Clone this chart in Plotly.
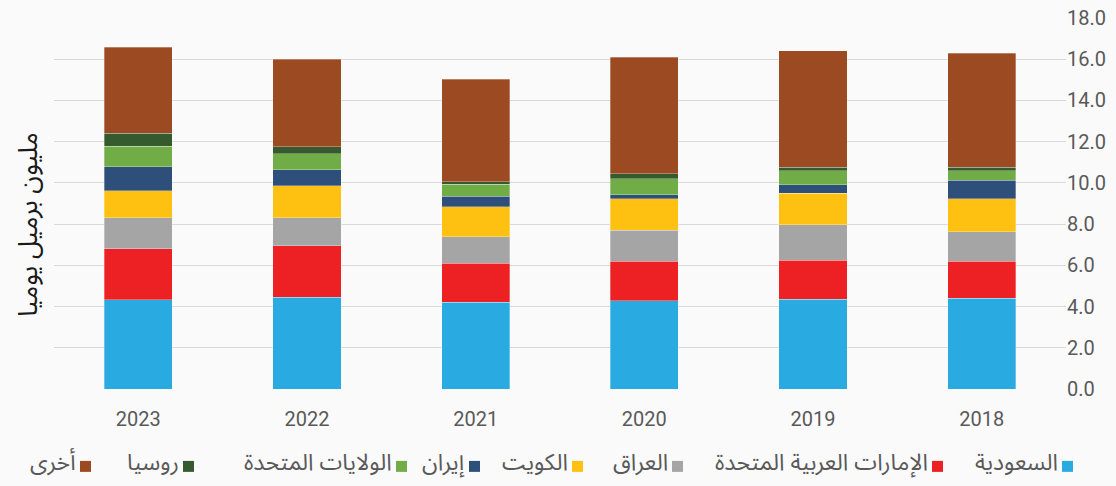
import plotly.graph_objects as go

years = ["2018", "2019", "2020", "2021", "2022", "2023"]
series_names = ["السعودية", "الإمارات العربية المتحدة", "العراق", "الكويت", "إيران",
                "الولايات المتحدة", "روسيا", "أخرى"]
saudi  = [4.41, 4.36, 4.28, 4.22, 4.44, 4.33]
uae    = [1.78, 1.88, 1.91, 1.89, 2.51, 2.47]
iraq   = [1.45, 1.73, 1.52, 1.27, 1.35, 1.50]
kuwait = [1.59, 1.52, 1.51, 1.47, 1.55, 1.31]
iran   = [0.89, 0.43, 0.21, 0.49, 0.78, 1.17]
usa    = [0.48, 0.68, 0.78, 0.60, 0.78, 1.00]
russia = [0.16, 0.16, 0.23, 0.12, 0.34, 0.64]
other  = [5.53, 5.66, 5.65, 4.97, 4.26, 4.17]
values = [saudi, uae, iraq, kuwait, iran, usa, russia, other]
y_ticks = [0, 2, 4, 6, 8, 10, 12, 14, 16, 18]
y_title = "مليون برميل يوميا"

colors = ["#29abe2", "#ed2024", "#a5a5a5", "#fec112", "#2f4f7b", "#70ad47", "#345a2d", "#9c4a22"]

fig = go.Figure()
for name, vals, col in zip(series_names, values, colors):
    fig.add_trace(go.Bar(x=years, y=vals, name=name, marker_color=col,
                         marker_line=dict(width=0.6, color="rgba(255,255,255,0.5)"),
                         showlegend=False))

# plot area geometry in pixels (for manual RTL legend)
L, R, T, B = 54, 1066, 18, 389.5
def px_x(p): return (p - L) / (R - L)
def px_y(p): return (B - p) / (B - T)

arabic_font = "Noto Sans Arabic, DejaVu Sans, sans-serif"
square_left = [1062, 932, 672, 572, 469, 396, 183, 80]
leg_y = 467
shapes, annots = [], []
for name, col, sx in zip(series_names, colors, square_left):
    shapes.append(dict(type="rect", xref="paper", yref="paper",
                       x0=px_x(sx), x1=px_x(sx + 11), y0=px_y(leg_y + 5.5), y1=px_y(leg_y - 5.5),
                       fillcolor=col, line=dict(width=0)))
    annots.append(dict(xref="paper", yref="paper", x=px_x(sx - 2), y=px_y(leg_y - 4),
                       xanchor="right", yanchor="middle", text=name, showarrow=False,
                       font=dict(family=arabic_font, size=23, color="#595959")))
annots.append(dict(xref="paper", yref="paper", x=px_x(29), y=px_y(225), text=y_title,
                   textangle=-90, showarrow=False, xanchor="center", yanchor="middle",
                   font=dict(family=arabic_font, size=26, color="#1a1a1a")))

fig.update_layout(
    width=1116, height=486,
    margin=dict(l=L, r=1116 - R, t=T, b=486 - B, autoexpand=False),
    barmode="stack", bargap=0.595,
    paper_bgcolor="#fafafa", plot_bgcolor="#fafafa",
    shapes=shapes, annotations=annots,
    xaxis=dict(autorange="reversed", type="category", showgrid=False, showline=False,
               ticks="", ticklabelstandoff=16, automargin=False,
               tickfont=dict(family="Roboto", size=20, color="#595959")),
    yaxis=dict(side="right", range=[0, 18], tickvals=y_ticks, tickformat=".1f",
               showgrid=True, gridcolor="#d9d9d9", gridwidth=1.3, zeroline=False,
               showline=False, ticks="", automargin=False,
               tickfont=dict(family="Roboto", size=20, color="#595959")),
)
fig.write_html("out.html", config={"displayModeBar": False},
               post_script="document.body.style.margin='0';")
